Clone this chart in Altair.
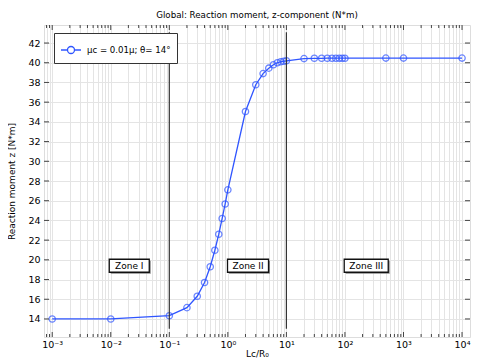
import altair as alt
import pandas as pd

# ---- data ----
ratio = [0.001, 0.01, 0.1, 0.2, 0.3, 0.4, 0.5, 0.6, 0.7, 0.8, 0.9, 1,
         2, 3, 4, 5, 6, 7, 8, 9, 10,
         20, 30, 40, 50, 60, 70, 80, 90, 100, 500, 1000, 10000]
moment = [14.0, 14.0, 14.33, 15.15, 16.3, 17.7, 19.3, 20.97, 22.6, 24.2, 25.67, 27.1,
          35.05, 37.77, 38.9, 39.45, 39.8, 40.0, 40.1, 40.15, 40.2,
          40.42, 40.45, 40.45, 40.46, 40.46, 40.46, 40.46, 40.46, 40.46, 40.47, 40.47, 40.47]
series_label = "\u03bcc = 0.01\u03bc; \u03b8= 14\u00b0"

zone_names = ["Zone I", "Zone II", "Zone III"]
zone_x = [0.0207, 2.21, 231]
zone_y = [19.4, 19.4, 19.4]
zone_halfwidth = [20, 20.5, 22]

boundaries = [0.1, 10]
boundary_ymin = [13, 13]
boundary_ymax = [43.1, 43.1]

x_major = [1e-3, 1e-2, 1e-1, 1e0, 1e1, 1e2, 1e3, 1e4]
x_major_labels = ["10\u207b\u00b3", "10\u207b\u00b2", "10\u207b\u00b9", "10\u2070",
                  "10\u00b9", "10\u00b2", "10\u00b3", "10\u2074"]
x_minor = [8e-4, 9e-4] + [m * d for d in [1e-3, 1e-2, 1e-1, 1e0, 1e1, 1e2, 1e3] for m in range(2, 10)]
y_ticks = list(range(14, 44, 2))

W, H = 426, 312
FONT = "DejaVu Sans"
BLUE = "#2f55ff"

xscale = alt.Scale(type="log", domain=[0.000724, 13680], nice=False)
yscale = alt.Scale(domain=[12.17, 43.83], nice=False, zero=False)

df = pd.DataFrame({"ratio": ratio, "moment": moment, "series": [series_label] * len(ratio)})

label_expr = " : ".join(
    f"abs(datum.value - {v}) < {v}*1e-6 ? '{l}'" for v, l in zip(x_major, x_major_labels)
) + " : ''"

x_axis = alt.Axis(values=sorted(x_minor + x_major), labelExpr=label_expr, grid=True,
                  gridColor="#e4e4e4", gridWidth=1, ticks=False, domain=False,
                  labelFont=FONT, labelFontSize=9.5, labelColor="#000", labelPadding=2,
                  labelFlush=False, labelOverlap=False,
                  title="Lc/R\u2080", titleFont=FONT, titleFontSize=9, titleFontWeight="normal",
                  titleColor="#000", titlePadding=1)
y_axis = alt.Axis(values=y_ticks, grid=True, gridColor="#e4e4e4", gridWidth=1, ticks=False,
                  domain=False, labelFont=FONT, labelFontSize=9.5, labelColor="#000",
                  labelPadding=4, title="Reaction moment z [N*m]", titleFont=FONT,
                  titleFontSize=9, titleFontWeight="normal", titleColor="#000", titlePadding=11)


def X(field):
    return alt.X(field, type="quantitative", scale=xscale, axis=x_axis)


def Y(field):
    return alt.Y(field, type="quantitative", scale=yscale, axis=y_axis)


legend_symbol = "M-1,0 L-0.35,0 M0.35,0 L1,0 M0.35,0 A0.35,0.35 0 1 1 -0.35,0 A0.35,0.35 0 1 1 0.35,0 Z"

line = alt.Chart(df).mark_line(strokeWidth=1.3, clip=True).encode(
    x=X("ratio"),
    y=Y("moment"),
    color=alt.Color("series:N", scale=alt.Scale(domain=[series_label], range=[BLUE]),
                    legend=alt.Legend(title=None, orient="none", legendX=10, legendY=8,
                                      symbolType=legend_symbol, symbolSize=400,
                                      symbolStrokeWidth=1.3, symbolFillColor="transparent",
                                      symbolStrokeColor=BLUE,
                                      labelFont=FONT, labelFontSize=8.6, labelColor="#000",
                                      strokeColor="#333", fillColor="white", padding=6,
                                      labelOffset=5, cornerRadius=0)),
)
points = alt.Chart(df).mark_point(shape="circle", filled=False, size=40, strokeWidth=1.3,
                                  color=BLUE, clip=True).encode(
    x=X("ratio"),
    y=Y("moment"),
)

bdf = pd.DataFrame({"x": boundaries, "y1": boundary_ymin, "y2": boundary_ymax})
brules = alt.Chart(bdf).mark_rule(color="#333", strokeWidth=1.2).encode(
    x=X("x"),
    y=Y("y1"),
    y2="y2:Q",
)

zone_layers = []
for name, zx, zy, hw in zip(zone_names, zone_x, zone_y, zone_halfwidth):
    zdf = pd.DataFrame({"x": [zx], "y": [zy], "t": [name]})
    base = alt.Chart(zdf)
    enc = dict(x=X("x"), x2="x:Q", y=Y("y"), y2="y:Q")
    shadow = base.mark_rect(fill="#8a8a8a", xOffset=-hw + 1.5, x2Offset=hw + 1.5,
                            yOffset=-6.5 + 1.5, y2Offset=6.5 + 1.5).encode(**enc)
    box = base.mark_rect(fill="white", stroke="#111", strokeWidth=1.3, xOffset=-hw,
                         x2Offset=hw, yOffset=-6.5, y2Offset=6.5).encode(**enc)
    txt = base.mark_text(font=FONT, fontSize=9, color="#000", align="center",
                         baseline="middle").encode(x=X("x"), y=Y("y"), text="t:N")
    zone_layers += [shadow, box, txt]

# inward ticks
TCOL = "#444"


def xticks(vals, length, top):
    d = pd.DataFrame({"v": vals})
    if top:
        yy, yy2 = alt.value(0), alt.value(length)
    else:
        yy, yy2 = alt.value(H), alt.value(H - length)
    return alt.Chart(d).mark_rule(color=TCOL, strokeWidth=1).encode(x=X("v"), y=yy, y2=yy2)


def yticks(vals, length, right):
    d = pd.DataFrame({"v": vals})
    if right:
        xx, xx2 = alt.value(W), alt.value(W - length)
    else:
        xx, xx2 = alt.value(0), alt.value(length)
    return alt.Chart(d).mark_rule(color=TCOL, strokeWidth=1).encode(y=Y("v"), x=xx, x2=xx2)


tick_layers = [xticks(x_major, 5, False), xticks(x_minor, 3, False),
               xticks(x_major, 5, True), xticks(x_minor, 3, True),
               yticks(y_ticks, 5, False), yticks(y_ticks, 5, True)]

chart = alt.layer(line, points, brules, *zone_layers, *tick_layers).properties(
    width=W, height=H,
    title=alt.TitleParams("Global: Reaction moment, z-component (N*m)", font=FONT,
                          fontSize=8.7, fontWeight="normal", color="#000", offset=5),
    autosize=alt.AutoSizeParams(type="none"),
    padding={"left": 36, "top": 17, "right": 2, "bottom": 24},
).configure_view(stroke="#4a4a4a", strokeWidth=1.6).configure(background="white")

chart.save("out.html", embed_options={"renderer": "svg", "actions": False})
